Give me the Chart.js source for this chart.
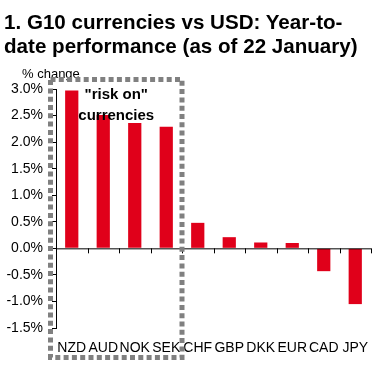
<!DOCTYPE html>
<html>
<head>
<meta charset="utf-8">
<script src="https://cdn.jsdelivr.net/npm/chart.js@4.4.1/dist/chart.umd.min.js"></script>
<style>
  html, body { margin: 0; padding: 0; background: #fff; }
  #wrap { position: relative; width: 387px; height: 369px; }
  #title {
    position: absolute; left: 4px; top: 10px;
    font: bold 20.6px "Liberation Sans", Arial, sans-serif;
    line-height: 24px; color: #000; white-space: nowrap;
  }
  canvas { position: absolute; left: 0; top: 0; }
</style>
</head>
<body>
<div id="wrap">
  <canvas id="fxChart" width="387" height="369"></canvas>
  <div id="title">1. G10 currencies vs USD: Year-to-<br>date performance (as of 22 January)</div>
</div>
<script>
const currencies = ["NZD","AUD","NOK","SEK","CHF","GBP","DKK","EUR","CAD","JPY"];
const ytdChange = [2.97, 2.51, 2.36, 2.29, 0.48, 0.21, 0.11, 0.10, -0.43, -1.05];
const yTicks = [3.0, 2.5, 2.0, 1.5, 1.0, 0.5, 0.0, -0.5, -1.0, -1.5];
const riskOn = ["NZD","AUD","NOK","SEK"];
const boxText = ['"risk on"', "currencies"];

const FONT = '"Liberation Sans", Arial, sans-serif';

// zero line with tick marks between categories, "% change" label, dotted box
const extras = {
  id: "extras",
  afterDatasetsDraw(chart) {
    const {ctx, chartArea, scales:{x, y}} = chart;
    const y0 = y.getPixelForValue(0);
    const half = (x.getPixelForValue(1) - x.getPixelForValue(0)) / 2;
    ctx.save();
    ctx.strokeStyle = "#000";
    ctx.lineWidth = 1;
    ctx.beginPath();
    ctx.moveTo(chartArea.left, y0 + 0.5);
    ctx.lineTo(chartArea.right, y0 + 0.5);
    for (let i = 0; i < currencies.length; i++) {
      const px = Math.round(x.getPixelForValue(i) + half) + 0.5;
      ctx.moveTo(px, y0);
      ctx.lineTo(px, y0 + 5);
    }
    ctx.stroke();

    ctx.fillStyle = "#000";
    ctx.font = "13px " + FONT;
    ctx.textAlign = "left";
    ctx.textBaseline = "alphabetic";
    ctx.fillText("% change", 22, chartArea.top - 11);

    // dotted box round the "risk on" group
    const last = currencies.indexOf(riskOn[riskOn.length - 1]);
    const bx0 = chartArea.left - 5.5;
    const bx1 = x.getPixelForValue(last) + half;
    const by0 = chartArea.top - 9.5;
    const by1 = chartArea.bottom + 29.5;
    ctx.strokeStyle = "#808080";
    ctx.lineWidth = 5;
    ctx.setLineDash([5, 3.3]);
    ctx.strokeRect(bx0, by0, bx1 - bx0, by1 - by0);
    ctx.setLineDash([]);

    ctx.fillStyle = "#000";
    ctx.font = "bold 15px " + FONT;
    ctx.textAlign = "center";
    const cx = (bx0 + bx1) / 2;
    ctx.fillText(boxText[0], cx, chartArea.top + 10);
    ctx.fillText(boxText[1], cx, chartArea.top + 31);
    ctx.restore();
  }
};

new Chart(document.getElementById("fxChart"), {
  type: "bar",
  data: {
    labels: currencies,
    datasets: [{
      data: ytdChange,
      backgroundColor: "#E0001A",
      barPercentage: 0.42,
      categoryPercentage: 1
    }]
  },
  options: {
    responsive: false,
    animation: false,
    events: [],
    layout: { padding: { top: 89, right: 16, left: 0, bottom: 0 } },
    plugins: {
      legend: { display: false },
      tooltip: { enabled: false }
    },
    scales: {
      x: {
        grid: { display: false, drawTicks: false },
        border: { display: false },
        ticks: {
          color: "#000",
          font: { family: FONT, size: 14 },
          padding: 12,
          maxRotation: 0,
          autoSkip: false
        },
        afterFit(s) { s.height = 41; }
      },
      y: {
        min: -1.5,
        max: 3.0,
        afterBuildTicks(s) { s.ticks = yTicks.map(v => ({ value: v })); },
        grid: { drawOnChartArea: false, tickLength: 4, color: "#000" },
        border: { display: true, color: "#000", width: 1 },
        ticks: {
          color: "#000",
          font: { family: FONT, size: 14 },
          padding: 9,
          callback: v => v.toFixed(1) + "%"
        },
        afterFit(s) { s.width = 56; }
      }
    }
  },
  plugins: [extras]
});
</script>
</body>
</html>
